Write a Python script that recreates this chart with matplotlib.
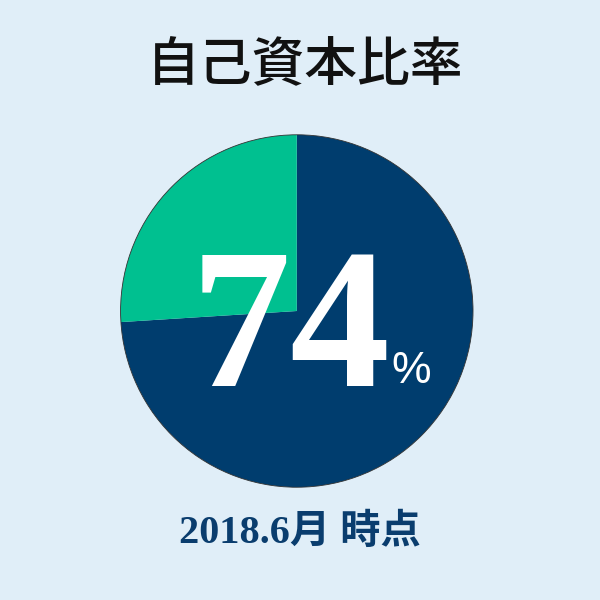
import matplotlib.pyplot as plt

# datos del gráfico
etiquetas = ["自己資本", "その他"]
valores = [74, 26]
colores = ["#003d6e", "#00c090"]
titulo = "自己資本比率"
valor_texto = "74"
pie_texto = "2018.6月 時点"

fondo = "#e0eef8"

fig = plt.figure(figsize=(6, 6), dpi=100, facecolor=fondo)

# ejes del pastel: centro (297, 311) px, radio ~178 px
ax = fig.add_axes([0.198, 0.185, 0.5933, 0.5933])
ax.pie(valores, colors=colores, startangle=90, counterclock=False,
       wedgeprops=dict(edgecolor="none"))
ax.add_patch(plt.Circle((0, 0), 1, fill=False, edgecolor="#333333", linewidth=0.6))
ax.set_xlim(-1.01, 1.01)
ax.set_ylim(-1.01, 1.01)
ax.set_aspect("equal")
ax.axis("off")

fig.text(0.508, 0.889, titulo, ha="center", va="center", fontsize=38,
         fontweight="medium", color="#111111", family=["Noto Sans CJK JP", "DejaVu Sans"])

fig.text(0.484, 0.356, valor_texto, ha="center", va="baseline", fontsize=144,
         fontweight="bold", color="white", family=["Liberation Serif", "DejaVu Serif"])
fig.text(0.653, 0.361, "%", ha="left", va="baseline", fontsize=32,
         color="white", family=["Liberation Sans", "DejaVu Sans"])

fig.text(0.5, 0.112, pie_texto, ha="center", va="center", fontsize=29,
         fontweight="bold", color="#0a3d6e",
         family=["Liberation Serif", "Noto Sans CJK JP"])

fig.savefig("out.png", dpi=100, facecolor=fondo)
